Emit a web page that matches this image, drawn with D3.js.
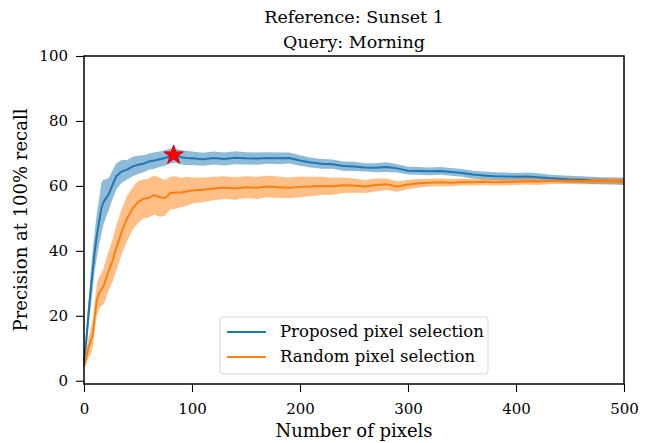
<!DOCTYPE html>
<html>
<head>
<meta charset="utf-8">
<script src="https://cdn.jsdelivr.net/npm/d3@7"></script>
<style>
  body { margin: 0; background: #fff; }
  text { font-family: "DejaVu Serif", serif; fill: #000; }
</style>
</head>
<body>
<svg id="chart"></svg>
<script>
  //Number of pixels sampled
  const pixels = [0, 2, 4, 6, 8, 10, 12, 14, 16, 18, 20, 23, 26, 30, 35, 40, 45, 50, 55, 60,
    65, 70, 75, 80, 85, 90, 95, 100, 110, 120, 130, 140, 150, 160, 170, 180, 190, 200,
    210, 220, 230, 240, 250, 260, 270, 280, 290, 300, 310, 320, 330, 340, 350, 360,
    370, 380, 390, 400, 410, 420, 430, 440, 450, 460, 470, 480, 490, 500];

  //Proposed pixel selection: mean and spread
  const proposedMean = [6, 12, 20, 27, 34, 40, 45, 49, 53, 55, 56, 57.5, 60, 63, 64.5, 65, 66, 66.5, 66.8, 67.5,
    67.8, 68.2, 68.6, 69.2, 69.3, 68.8, 68.6, 68.5, 68.2, 68.6, 68.3, 68.7, 68.5, 68.4, 68.6, 68.5, 68.6, 67.8,
    67.2, 66.8, 66.7, 66.1, 66.0, 65.7, 65.6, 65.8, 65.4, 64.7, 64.6, 64.5, 64.6, 64.3, 64.0, 63.5,
    63.2, 63.0, 62.9, 62.8, 62.9, 62.7, 62.4, 62.2, 62.0, 61.9, 61.7, 61.6, 61.5, 61.4];
  const proposedSpread = [2, 3, 4, 5, 6, 6, 7, 7, 8, 7, 6, 5, 4.5, 4, 3.5, 3, 3, 2.8, 2.6, 2.5,
    2.5, 2.4, 2.4, 2.3, 2.2, 2.2, 2.2, 2.1, 2.0, 2.0, 2.0, 2.0, 1.9, 1.9, 1.8, 1.8, 1.7, 1.6,
    1.5, 1.5, 1.4, 1.4, 1.4, 1.3, 1.4, 1.5, 1.3, 1.2, 1.2, 1.2, 1.2, 1.2, 1.2, 1.2,
    1.2, 1.2, 1.2, 1.2, 1.2, 1.2, 1.1, 1.1, 1.1, 1.1, 1.1, 1.1, 1.1, 1.1];

  //Random pixel selection: mean and spread
  const randomMean = [4.5, 7, 10, 12, 14, 20, 25, 27, 28, 29, 31, 34, 36.5, 41, 46, 50, 53, 55, 56, 56.3,
    57.2, 56.5, 56.3, 57.8, 58, 58, 58.3, 58.6, 58.8, 59.2, 59.5, 59.2, 59.6, 59.4, 59.8, 59.6, 59.4, 59.7,
    59.8, 60, 59.9, 60.2, 60.1, 59.8, 60.3, 60.5, 59.8, 60.4, 60.8, 61.0, 61.1, 61.0, 61.2, 61.1,
    61.3, 61.1, 61.2, 61.3, 61.4, 61.3, 61.5, 61.6, 61.6, 61.5, 61.5, 61.5, 61.5, 61.4];
  const randomSpread = [1, 2, 3, 4, 4, 4.5, 5, 5, 5, 5.5, 6, 6, 6.5, 7, 7, 7, 6.5, 6.5, 6, 6,
    6, 6, 5.5, 5, 5, 4.5, 4.5, 4, 3.8, 3.6, 3.5, 3.5, 3.4, 3.4, 3.3, 3.3, 3.2, 3.2,
    3, 2.8, 2.6, 2.4, 2.2, 2, 2, 1.8, 1.6, 1.4, 1.3, 1.2, 1.2, 1.1, 1.1, 1.0,
    1.0, 1.0, 1.0, 1.0, 1.0, 1.0, 1.0, 1.0, 1.0, 1.0, 1.0, 1.0, 1.0, 1.0];

  //Best point marked with a star
  const bestPoint = { x: 83, y: 69.5 };

  const xTicks = [0, 100, 200, 300, 400, 500];
  const yTicks = [0, 20, 40, 60, 80, 100];
  const titleLines = ['Reference: Sunset 1', 'Query: Morning'];
  const seriesNames = ['Proposed pixel selection', 'Random pixel selection'];
  const seriesColors = ['#1f77b4', '#ff7f0e'];

  const serif = '"DejaVu Serif", serif';
  const width = 649;
  const height = 443;
  const margin = { top: 56, right: 25, bottom: 59, left: 84 };

  const svg = d3.select('#chart')
    .attr('width', width)
    .attr('height', height);

  const x = d3.scaleLinear().domain([0, 500]).range([margin.left, width - margin.right]);
  const y = d3.scaleLinear().domain([-1, 100]).range([height - margin.bottom, margin.top]);

  const series = [
    { mean: proposedMean, spread: proposedSpread, color: seriesColors[0] },
    { mean: randomMean, spread: randomSpread, color: seriesColors[1] },
  ];

  const plot = svg.append('g');

  //Bands first, then lines on top
  const area = d3.area()
    .x(d => x(d.x))
    .y0(d => y(d.lo))
    .y1(d => y(d.hi));
  const line = d3.line()
    .x(d => x(d.x))
    .y(d => y(d.m));

  series.forEach(s => {
    s.points = pixels.map((p, i) => ({ x: p, m: s.mean[i], lo: s.mean[i] - s.spread[i], hi: s.mean[i] + s.spread[i] }));
  });

  series.forEach(s => {
    plot.append('path')
      .datum(s.points)
      .attr('d', area)
      .attr('fill', s.color)
      .attr('fill-opacity', 0.5);
  });
  series.forEach(s => {
    plot.append('path')
      .datum(s.points)
      .attr('d', line)
      .attr('fill', 'none')
      .attr('stroke', s.color)
      .attr('stroke-width', 2);
  });

  //Star marker
  const star = d3.symbol().type(d3.symbolStar).size(115);
  plot.append('path')
    .attr('d', star)
    .attr('transform', `translate(${x(bestPoint.x)},${y(bestPoint.y)})`)
    .attr('fill', '#ff0000')
    .attr('stroke', '#d00000')
    .attr('stroke-width', 1);

  //Axes
  const xAxis = svg.append('g')
    .attr('transform', `translate(0,${height - margin.bottom})`)
    .call(d3.axisBottom(x).tickValues(xTicks).tickSize(8).tickPadding(11));
  const yAxis = svg.append('g')
    .attr('transform', `translate(${margin.left},0)`)
    .call(d3.axisLeft(y).tickValues(yTicks).tickSize(8).tickPadding(8));
  [xAxis, yAxis].forEach(a => {
    a.select('.domain').remove();
    a.selectAll('.tick line').attr('stroke', '#000').attr('stroke-width', 1.1);
    a.selectAll('.tick text').style('font-family', serif).style('font-size', '15px');
  });

  //Frame
  svg.append('rect')
    .attr('x', margin.left)
    .attr('y', margin.top)
    .attr('width', width - margin.left - margin.right)
    .attr('height', height - margin.top - margin.bottom)
    .attr('fill', 'none')
    .attr('stroke', '#000')
    .attr('stroke-width', 1.5);

  //Title
  const cx = (margin.left + width - margin.right) / 2;
  titleLines.forEach((t, i) => {
    svg.append('text')
      .attr('x', cx)
      .attr('y', 23 + i * 25)
      .attr('text-anchor', 'middle')
      .style('font-family', serif)
      .style('font-size', '17.5px')
      .text(t);
  });

  //Axis labels
  svg.append('text')
    .attr('x', cx)
    .attr('y', 437)
    .attr('text-anchor', 'middle')
    .style('font-family', serif)
    .style('font-size', '18px')
    .text('Number of pixels');
  svg.append('text')
    .attr('transform', `translate(27,${(margin.top + height - margin.bottom) / 2}) rotate(-90)`)
    .attr('text-anchor', 'middle')
    .style('font-family', serif)
    .style('font-size', '18px')
    .text('Precision at 100% recall');

  //Legend
  const legend = svg.append('g').attr('transform', 'translate(220,317)');
  legend.append('rect')
    .attr('width', 268)
    .attr('height', 57)
    .attr('rx', 3)
    .attr('fill', '#fff')
    .attr('fill-opacity', 0.8)
    .attr('stroke', '#d6d6d6');
  seriesNames.forEach((name, i) => {
    legend.append('line')
      .attr('x1', 7).attr('x2', 46)
      .attr('y1', 15 + i * 25).attr('y2', 15 + i * 25)
      .attr('stroke', seriesColors[i])
      .attr('stroke-width', 2);
    legend.append('text')
      .attr('x', 60)
      .attr('y', 20 + i * 25)
      .style('font-family', serif)
      .style('font-size', '16.5px')
      .text(name);
  });
</script>
</body>
</html>
